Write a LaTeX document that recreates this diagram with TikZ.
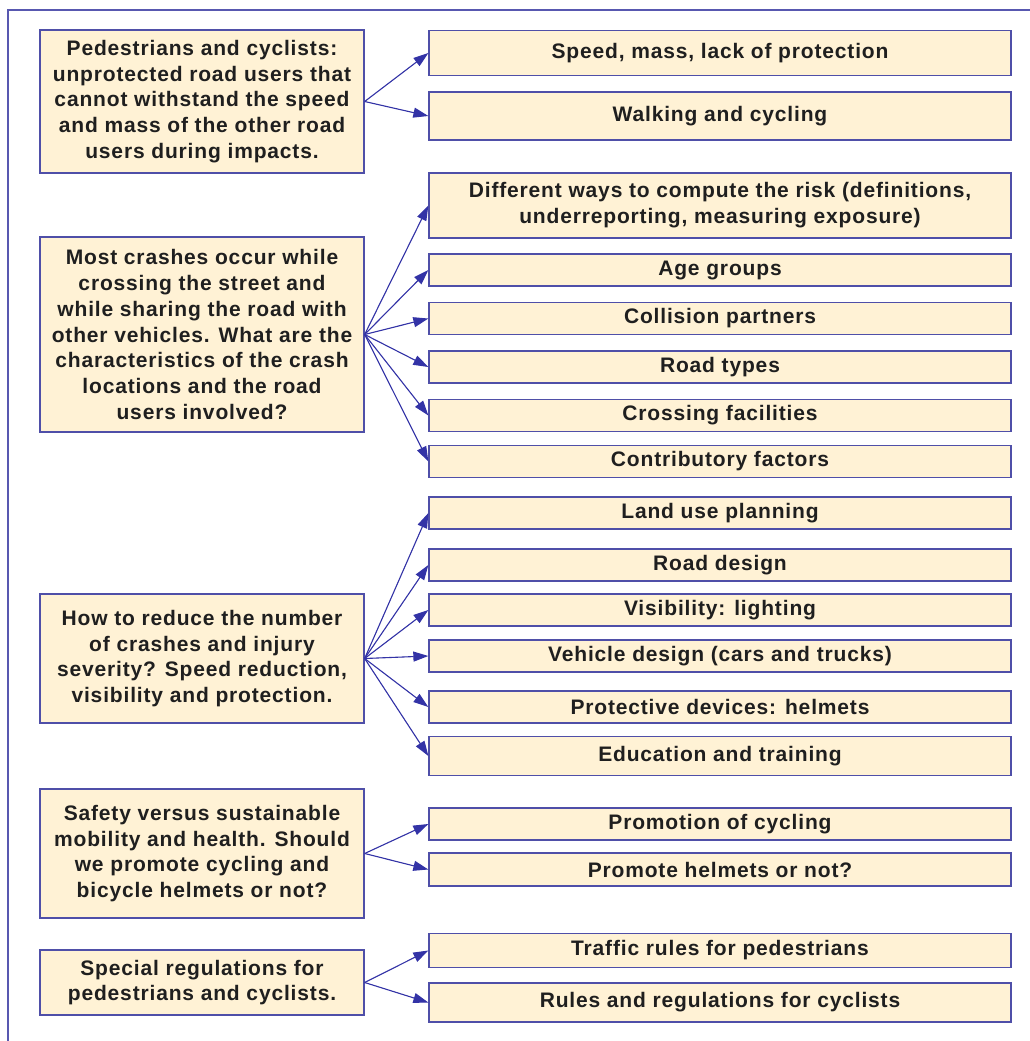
\documentclass[tikz,border=0pt]{standalone}
\usepackage{fontspec}
\setmainfont{Liberation Sans}[LetterSpace=4]
\usetikzlibrary{arrows.meta}
\definecolor{boxfill}{HTML}{FFF2D5}
\definecolor{boxline}{HTML}{4F4FA8}
\definecolor{arrowblue}{HTML}{3333A6}
\definecolor{frameline}{HTML}{5858B0}

\begin{document}
\begin{tikzpicture}[x=1pt, y=-1pt,
    qbox/.style={draw=boxline, line width=1.3pt, fill=boxfill, minimum width=324pt, minimum height=#1, align=center, inner sep=2pt, text=black!88, font=\fontsize{21}{25.8}\selectfont\bfseries},
    abox/.style={draw=boxline, line width=1.3pt, fill=boxfill, minimum width=582pt, minimum height=#1, align=center, inner sep=2pt, text=black!88, font=\fontsize{21}{25.8}\selectfont\bfseries},
    arr/.style={-{Triangle[length=15pt,width=10pt]}, draw=arrowblue, fill=arrowblue, line width=1.1pt}
]
\useasboundingbox (0,0) rectangle (1030,1041);

% Frame (cut off at right and bottom)
\coordinate (fbot) at (8,1041);
\coordinate (fright) at (1030,10);
\draw[frameline, line width=1.3pt] (fbot) |- (fright);

% Block 1: unprotected road users
\node[qbox=143pt] (users) at (202,101.5) {Pedestrians and cyclists:\\unprotected road users that\\cannot withstand the speed\\and mass of the other road\\users during impacts.};
\node[abox=45pt] (speed) at (720,53) {Speed, mass, lack of protection};
\node[abox=48pt] (walk) at (720,116) {Walking and cycling};

\draw[arr] (users.east) -- (speed.west);
\draw[arr] (users.east) -- (walk.west);

% Block 2: crash characteristics
\node[qbox=195pt] (crash) at (202,334.5) {Most crashes occur while\\crossing the street and\\while sharing the road with\\other vehicles. What are the\\characteristics of the crash\\locations and the road\\users involved?};
\node[abox=65pt] (risk) at (720,205.5) {Different ways to compute the risk (definitions,\\underreporting, measuring exposure)};
\node[abox=32pt] (age) at (720,270) {Age groups};
\node[abox=32pt] (partner) at (720,318.5) {Collision partners};
\node[abox=32pt] (roadtype) at (720,367) {Road types};
\node[abox=32pt] (crossing) at (720,415.5) {Crossing facilities};
\node[abox=32pt] (factors) at (720,461.5) {Contributory factors};

\draw[arr] (crash.east) -- (risk.west);
\draw[arr] (crash.east) -- (age.west);
\draw[arr] (crash.east) -- (partner.west);
\draw[arr] (crash.east) -- (roadtype.west);
\draw[arr] (crash.east) -- (crossing.west);
\draw[arr] (crash.east) -- (factors.west);

% Block 3: reducing crashes
\node[qbox=129pt] (reduce) at (202,658.5) {How to reduce the number\\of crashes and injury\\severity? Speed reduction,\\visibility and protection.};
\node[abox=32pt] (landuse) at (720,513) {Land use planning};
\node[abox=32pt] (roaddesign) at (720,565) {Road design};
\node[abox=32pt] (lighting) at (720,610) {Visibility: lighting};
\node[abox=32pt] (vehicle) at (720,656) {Vehicle design (cars and trucks)};
\node[abox=32pt] (devices) at (720,707) {Protective devices: helmets};
\node[abox=39pt] (education) at (720,756) {Education and training};

\draw[arr] (reduce.east) -- (landuse.west);
\draw[arr] (reduce.east) -- (roaddesign.west);
\draw[arr] (reduce.east) -- (lighting.west);
\draw[arr] (reduce.east) -- (vehicle.west);
\draw[arr] (reduce.east) -- (devices.west);
\draw[arr] (reduce.east) -- (education.west);

% Block 4: safety versus mobility
\node[qbox=129pt] (mobility) at (202,853.5) {Safety versus sustainable\\mobility and health. Should\\we promote cycling and\\bicycle helmets or not?};
\node[abox=32pt] (promo) at (720,824) {Promotion of cycling};
\node[abox=33pt] (helmets) at (720,869.5) {Promote helmets or not?};

\draw[arr] (mobility.east) -- (promo.west);
\draw[arr] (mobility.east) -- (helmets.west);

% Block 5: regulations
\node[qbox=65pt] (rules) at (202,982.5) {Special regulations for\\pedestrians and cyclists.};
\node[abox=34pt] (traffic) at (720,950.5) {Traffic rules for pedestrians};
\node[abox=39pt] (cyclerules) at (720,1002.5) {Rules and regulations for cyclists};

\draw[arr] (rules.east) -- (traffic.west);
\draw[arr] (rules.east) -- (cyclerules.west);
\end{tikzpicture}
\end{document}
